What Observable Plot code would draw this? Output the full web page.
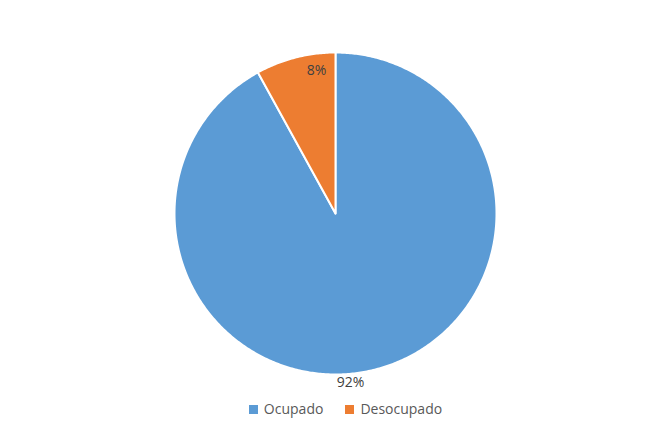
<!DOCTYPE html>
<html><head><meta charset="utf-8">
<script src="https://cdn.jsdelivr.net/npm/d3@7"></script>
<script src="https://cdn.jsdelivr.net/npm/@observablehq/plot@0.6"></script>
<style>
body{margin:0;background:#fff;font-family:"Open Sans",sans-serif;}
#legend{display:flex;justify-content:center;gap:22px;font-size:14px;color:#595959;height:26px;align-items:center;margin-left:40px}
#legend span.sw{display:inline-block;width:9px;height:9px;margin-right:6px;vertical-align:0px}
</style></head>
<body><div id="chart"></div><div id="legend"></div>
<script>
const categories = ["Ocupado", "Desocupado"];
const values = [92, 8];
const valueLabels = ["92%", "8%"];
const colors = ["#5B9BD5", "#ED7D31"];

const W = 651, H = 395, R = 161, cx = 335, cy = 213;
const arcs = d3.pie().sort(null).value(d => d)(values);
const pts = [];
arcs.forEach((a, i) => {
  pts.push({cat: categories[i], x: 0, y: 0});
  const n = Math.max(4, Math.ceil((a.endAngle - a.startAngle) / 0.01));
  for (let k = 0; k <= n; k++) {
    const t = a.startAngle + (a.endAngle - a.startAngle) * k / n;
    pts.push({cat: categories[i], x: Math.sin(t), y: Math.cos(t)});
  }
});
const mid = a => (a.startAngle + a.endAngle) / 2;
const lab = arcs.map((a, i) => {
  const r = i === 0 ? 1.05 : 0.9;
  return {text: valueLabels[i], x: r * Math.sin(mid(a)), y: r * Math.cos(mid(a)), i};
});

const plot = Plot.plot({
  width: W, height: H, margin: 0,
  x: {domain: [-cx / R, (W - cx) / R], axis: null},
  y: {domain: [-(H - cy) / R, cy / R], axis: null},
  color: {domain: categories, range: colors},
  marks: [
    Plot.line(pts, {x: "x", y: "y", z: "cat", fill: "cat", stroke: "white", strokeWidth: 2, curve: "linear-closed"}),
    Plot.text(lab.filter(d => d.i === 0), {x: "x", y: "y", text: "text", fontSize: 14, fill: "#404040", dx: -27, dy: 5, fontFamily: "Open Sans"}),
    Plot.text(lab.filter(d => d.i === 1), {x: "x", y: "y", text: "text", fontSize: 14, fill: "#404040", dx: 17, dy: -3, fontFamily: "Open Sans"})
  ]
});
document.getElementById("chart").append(plot);
const lg = document.getElementById("legend");
categories.forEach((c, i) => {
  const d = document.createElement("div");
  d.innerHTML = `<span class="sw" style="background:${colors[i]}"></span>${c}`;
  lg.append(d);
});
</script></body></html>
